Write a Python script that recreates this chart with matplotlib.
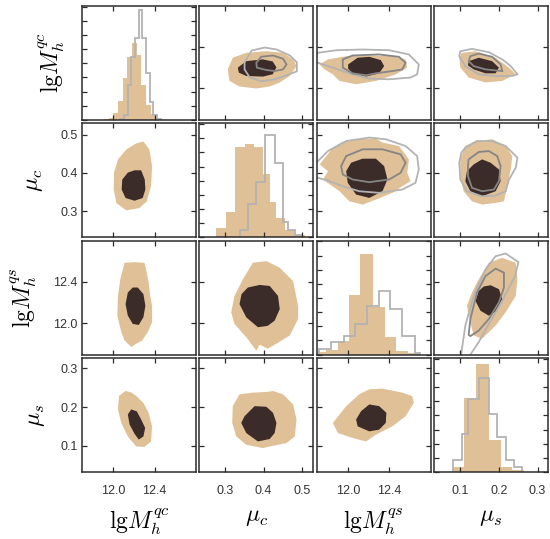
import matplotlib
matplotlib.use('Agg')
import matplotlib.pyplot as plt
from matplotlib.patches import Polygon

plt.rcParams['font.family'] = ['Liberation Sans', 'DejaVu Sans']
plt.rcParams['mathtext.fontset'] = 'cm'

TAN = '#e0c096'
DARK = '#3b2c29'
GRAY_OUT = '#b3b3b3'
GRAY_IN = '#858585'
SPINE = '#2b2b2b'

# parameter labels and axis setup
labels = [r'$\mathrm{lg}M_h^{qc}$', r'$\mu_c$', r'$\mathrm{lg}M_h^{qs}$', r'$\mu_s$']
limits = [(11.695, 12.80), (0.233, 0.529), (11.695, 12.80), (0.032, 0.327)]
ticks = [[12.0, 12.4], [0.3, 0.4, 0.5], [12.0, 12.4], [0.1, 0.2, 0.3]]
tick_text = [['12.0', '12.4'], ['0.3', '0.4', '0.5'], ['12.0', '12.4'], ['0.1', '0.2', '0.3']]

# 1D histograms (tan = filled, gray = step)
qc_edges_tan = [11.91, 11.955, 12.0, 12.045, 12.09, 12.135, 12.18, 12.225, 12.27, 12.315, 12.36, 12.405, 12.45]
qc_counts_tan = [0.1, 0.15, 0.47, 1.33, 2.95, 4.42, 5.47, 4.58, 2.44, 1.05, 0.4, 0.1]
qc_edges_gray = [12.067, 12.102, 12.138, 12.174, 12.209, 12.245, 12.280, 12.316, 12.351, 12.387, 12.422, 12.458]
qc_counts_gray = [0.1, 0.35, 2.45, 4.45, 5.8, 7.8, 5.8, 3.3, 1.3, 0.35, 0.1]

muc_edges_tan = [0.2766, 0.3027, 0.3244, 0.3505, 0.3740, 0.3983, 0.4158, 0.4333, 0.4549, 0.4810, 0.5072]
muc_counts_tan = [0.66, 1.78, 6.4, 6.56, 6.4, 4.47, 2.5, 1.34, 0.52, 0.17]
muc_edges_gray = [0.3374, 0.3591, 0.3810, 0.4027, 0.4288, 0.4505, 0.4636, 0.4810, 0.4985]
muc_counts_gray = [0.52, 2.38, 3.9, 7.26, 5.28, 1.1, 0.52, 0.17]

qs_edges_tan = [11.708, 11.788, 11.900, 12.012, 12.118, 12.243, 12.356, 12.467, 12.582, 12.692]
qs_counts_tan = [0.19, 0.3, 0.95, 4.19, 7.08, 3.38, 1.27, 0.26, 0.15]
qs_edges_gray = [11.717, 11.836, 11.955, 12.070, 12.183, 12.301, 12.404, 12.525, 12.644, 12.692]
qs_counts_gray = [0.37, 0.88, 1.3, 2.2, 3.42, 4.47, 3.2, 1.34, 0.15]

mus_edges_tan = [0.0806, 0.1085, 0.1406, 0.1738, 0.2043, 0.2346, 0.2652]
mus_counts_tan = [0.33, 5.25, 7.64, 2.23, 0.37, 0.15]
mus_edges_gray = [0.0806, 0.1041, 0.1189, 0.1477, 0.1738, 0.1939, 0.2174, 0.2391, 0.2607]
mus_counts_gray = [0.84, 2.65, 5.13, 6.64, 4.13, 2.46, 0.84, 0.37]

# 2D credible regions, lower triangle (x = column param, y = row param)
p21_tan = [(12.291, 0.482), (12.349, 0.461), (12.375, 0.418), (12.365, 0.366), (12.323, 0.326), (12.253, 0.309),
           (12.125, 0.303), (12.029, 0.322), (12.003, 0.357), (12.006, 0.401), (12.044, 0.435), (12.125, 0.461),
           (12.221, 0.477)]
p21_dark = [(12.269, 0.407), (12.304, 0.383), (12.310, 0.357), (12.284, 0.335), (12.205, 0.328), (12.118, 0.335),
            (12.080, 0.357), (12.086, 0.383), (12.140, 0.401), (12.205, 0.407)]

p31_tan = [(12.205, 12.592), (12.301, 12.586), (12.317, 12.522), (12.342, 12.394), (12.356, 12.265), (12.375, 12.169),
           (12.375, 12.009), (12.333, 11.913), (12.279, 11.833), (12.221, 11.801), (12.173, 11.769), (12.108, 11.833),
           (12.077, 11.913), (12.038, 12.073), (12.044, 12.265), (12.067, 12.426), (12.108, 12.586)]
p31_dark = [(12.236, 12.346), (12.291, 12.282), (12.310, 12.169), (12.291, 12.058), (12.246, 11.983), (12.188, 11.993),
            (12.140, 12.073), (12.118, 12.185), (12.140, 12.298), (12.188, 12.346)]

p41_tan = [(12.118, 0.242), (12.054, 0.229), (12.044, 0.194), (12.077, 0.159), (12.140, 0.124), (12.221, 0.098),
           (12.301, 0.097), (12.365, 0.111), (12.375, 0.150), (12.342, 0.185), (12.291, 0.211), (12.221, 0.229),
           (12.173, 0.238)]
p41_dark = [(12.173, 0.194), (12.227, 0.189), (12.269, 0.168), (12.308, 0.146), (12.291, 0.124), (12.246, 0.116),
            (12.205, 0.131), (12.157, 0.155), (12.140, 0.181)]

p32_tan = [(0.3722, 12.586), (0.4072, 12.602), (0.4419, 12.538), (0.4766, 12.409), (0.4897, 12.169), (0.4897, 12.041),
           (0.4680, 11.881), (0.4333, 11.801), (0.4105, 11.753), (0.3897, 11.791), (0.3810, 11.733), (0.3583, 11.849),
           (0.3244, 11.993), (0.3158, 12.106), (0.3244, 12.265), (0.3461, 12.426)]
p32_dark = [(0.3897, 12.371), (0.4158, 12.361), (0.4374, 12.265), (0.4419, 12.137), (0.4288, 12.025), (0.4105, 11.974),
            (0.3852, 11.961), (0.3549, 12.057), (0.3374, 12.185), (0.3427, 12.282), (0.3591, 12.346)]

p42_tan = [(0.3374, 0.2331), (0.3199, 0.2025), (0.3184, 0.1592), (0.3288, 0.1242), (0.3549, 0.1025), (0.3983, 0.0939),
           (0.4158, 0.0981), (0.4594, 0.1069), (0.4810, 0.1242), (0.4855, 0.1678), (0.4766, 0.2069), (0.4505, 0.2331),
           (0.4244, 0.2417), (0.4072, 0.2391), (0.3722, 0.2375)]
p42_dark = [(0.3766, 0.2025), (0.3505, 0.1764), (0.3419, 0.1592), (0.3549, 0.1330), (0.3852, 0.1111), (0.4158, 0.1174),
            (0.4288, 0.1330), (0.4333, 0.1592), (0.4244, 0.1853), (0.4072, 0.2009)]

p43_tan = [(11.852, 0.1592), (11.900, 0.1330), (12.044, 0.1200), (12.173, 0.1111), (12.269, 0.1286), (12.429, 0.1503),
           (12.557, 0.1764), (12.637, 0.2114), (12.621, 0.2286), (12.525, 0.2375), (12.333, 0.2479), (12.205, 0.2461),
           (12.108, 0.2331), (11.981, 0.2025)]
p43_dark = [(12.205, 0.2069), (12.301, 0.2025), (12.371, 0.1853), (12.365, 0.1592), (12.301, 0.1417), (12.205, 0.1372),
            (12.092, 0.1503), (12.077, 0.1678), (12.125, 0.1894)]

# upper triangle: filled regions plus the two gray contours of the second sample
p12_tan = [(0.3199, 12.298), (0.3069, 12.185), (0.3113, 12.073), (0.3374, 12.019), (0.3810, 12.000), (0.4158, 12.019),
           (0.4419, 12.058), (0.4680, 12.121), (0.4855, 12.217), (0.4766, 12.282), (0.4505, 12.346), (0.4072, 12.361),
           (0.3549, 12.346)]
p12_dark = [(0.3330, 12.202), (0.3549, 12.265), (0.3983, 12.282), (0.4236, 12.262), (0.4333, 12.205), (0.4236, 12.138),
            (0.3983, 12.115), (0.3549, 12.121), (0.3356, 12.154)]
p12_outer = [(0.3505, 12.253), (0.3688, 12.368), (0.4027, 12.397), (0.4340, 12.378), (0.4680, 12.320), (0.4863, 12.253),
             (0.4863, 12.166), (0.4601, 12.128), (0.4288, 12.089), (0.3949, 12.070), (0.3636, 12.108), (0.3505, 12.185)]
p12_inner = [(0.3810, 12.250), (0.3941, 12.308), (0.4244, 12.320), (0.4505, 12.288), (0.4594, 12.233), (0.4505, 12.185),
             (0.4288, 12.169), (0.4072, 12.179), (0.3826, 12.202)]

p13_tan = [(11.724, 12.233), (11.804, 12.282), (11.981, 12.313), (12.205, 12.320), (12.429, 12.313), (12.557, 12.282),
           (12.573, 12.202), (12.461, 12.137), (12.269, 12.073), (12.077, 12.041), (11.916, 12.073), (11.852, 12.137),
           (11.772, 12.185)]
p13_dark = [(12.000, 12.233), (12.092, 12.298), (12.205, 12.307), (12.317, 12.275), (12.349, 12.217), (12.301, 12.147),
            (12.173, 12.115), (12.044, 12.147), (12.000, 12.192)]
p13_outer = [(11.666, 12.301), (11.707, 12.346), (11.884, 12.371), (12.140, 12.378), (12.397, 12.371), (12.589, 12.330),
             (12.685, 12.233), (12.669, 12.137), (12.605, 12.106), (12.397, 12.089), (12.205, 12.096), (12.044, 12.137),
             (11.852, 12.202), (11.666, 12.262)]
p13_inner = [(11.948, 12.282), (12.044, 12.320), (12.301, 12.330), (12.493, 12.307), (12.557, 12.250), (12.525, 12.185),
             (12.429, 12.169), (12.269, 12.147), (12.173, 12.128), (12.044, 12.147), (11.948, 12.202)]

p14_tan = [(0.1041, 12.346), (0.1391, 12.361), (0.1913, 12.298), (0.2260, 12.202), (0.2435, 12.137), (0.2085, 12.073),
           (0.1652, 12.058), (0.1216, 12.106), (0.1000, 12.202), (0.0973, 12.298)]
p14_dark = [(0.1216, 12.265), (0.1477, 12.298), (0.1824, 12.265), (0.1999, 12.202), (0.1913, 12.147), (0.1652, 12.147),
            (0.1346, 12.185), (0.1197, 12.224)]
p14_outer = [(0.1000, 12.361), (0.1302, 12.384), (0.1738, 12.352), (0.2085, 12.282), (0.2304, 12.217), (0.2477, 12.137),
             (0.2346, 12.121), (0.1913, 12.121), (0.1477, 12.137), (0.1129, 12.217), (0.0973, 12.313)]
p14_inner = [(0.1260, 12.313), (0.1477, 12.339), (0.1824, 12.307), (0.2043, 12.233), (0.2085, 12.169), (0.1652, 12.185),
             (0.1346, 12.217), (0.1216, 12.265)]

p23_tan = [(11.932, 0.4790), (12.077, 0.4876), (12.269, 0.4894), (12.333, 0.4790), (12.493, 0.4701), (12.589, 0.4354),
           (12.573, 0.4006), (12.605, 0.3787), (12.525, 0.3656), (12.429, 0.3484), (12.269, 0.3309), (12.140, 0.3179),
           (12.012, 0.3265), (11.916, 0.3526), (11.756, 0.3831), (11.804, 0.4048), (11.724, 0.4223), (11.788, 0.4440),
           (11.852, 0.4659)]
p23_dark = [(12.140, 0.4372), (12.269, 0.4372), (12.349, 0.4179), (12.381, 0.3831), (12.333, 0.3526), (12.205, 0.3353),
            (12.077, 0.3440), (11.996, 0.3745), (11.981, 0.4048), (12.029, 0.4267)]
p23_outer = [(11.660, 0.4250), (11.707, 0.4309), (11.804, 0.4570), (11.981, 0.4831), (12.205, 0.4920), (12.365, 0.4876),
             (12.557, 0.4701), (12.669, 0.4440), (12.685, 0.4092), (12.653, 0.3745), (12.525, 0.3570), (12.301, 0.3484),
             (12.108, 0.3526), (11.948, 0.3656), (11.820, 0.3787), (11.707, 0.3876), (11.660, 0.3900)]
p23_inner = [(11.932, 0.4179), (11.981, 0.4440), (12.140, 0.4615), (12.333, 0.4615), (12.509, 0.4484), (12.557, 0.4267),
             (12.509, 0.4006), (12.397, 0.3831), (12.205, 0.3762), (12.044, 0.3831), (11.948, 0.3962)]

p24_tan = [(0.1129, 0.4701), (0.1391, 0.4831), (0.1824, 0.4876), (0.2174, 0.4701), (0.2346, 0.4440), (0.2304, 0.4092),
           (0.2216, 0.3656), (0.2129, 0.3265), (0.1913, 0.3223), (0.1563, 0.3179), (0.1302, 0.3265), (0.1085, 0.3526),
           (0.1000, 0.3918), (0.1000, 0.4354)]
p24_dark = [(0.1563, 0.4354), (0.1782, 0.4267), (0.1999, 0.4092), (0.2043, 0.3787), (0.1913, 0.3526), (0.1563, 0.3396),
            (0.1260, 0.3526), (0.1129, 0.3787), (0.1171, 0.4048), (0.1346, 0.4223)]
p24_outer = [(0.1129, 0.4659), (0.1434, 0.4831), (0.1824, 0.4831), (0.2174, 0.4701), (0.2477, 0.4398), (0.2435, 0.4137),
             (0.2260, 0.3831), (0.2174, 0.3526), (0.1913, 0.3414), (0.1563, 0.3396), (0.1171, 0.3526), (0.1000, 0.3831),
             (0.0973, 0.4267), (0.1026, 0.4528)]
p24_inner = [(0.1216, 0.4354), (0.1477, 0.4545), (0.1738, 0.4570), (0.1954, 0.4440), (0.2043, 0.4179), (0.1999, 0.3787),
             (0.1868, 0.3570), (0.1563, 0.3526), (0.1302, 0.3615), (0.1197, 0.3918), (0.1197, 0.4179)]

p34_tan = [(0.1738, 12.586), (0.2085, 12.634), (0.2435, 12.586), (0.2477, 12.426), (0.2435, 12.265), (0.2174, 12.106),
           (0.1913, 11.977), (0.1563, 11.849), (0.1346, 11.881), (0.1260, 12.009), (0.1171, 12.169), (0.1302, 12.298),
           (0.1477, 12.426)]
p34_dark = [(0.1782, 12.368), (0.1999, 12.330), (0.2085, 12.233), (0.1954, 12.121), (0.1738, 12.073), (0.1521, 12.121),
            (0.1391, 12.217), (0.1477, 12.313), (0.1607, 12.356)]
p34_outer = [(0.1000, 11.600), (0.1025, 11.705), (0.1129, 11.977), (0.1346, 12.265), (0.1652, 12.522), (0.1913, 12.650),
             (0.2174, 12.676), (0.2503, 12.592), (0.2417, 12.457), (0.2085, 12.217), (0.1738, 11.993), (0.1477, 11.817),
             (0.1260, 11.695), (0.1220, 11.600)]
p34_inner = [(0.1216, 11.887), (0.1260, 12.041), (0.1432, 12.298), (0.1652, 12.457), (0.1913, 12.529), (0.2129, 12.490),
             (0.2129, 12.346), (0.1999, 12.202), (0.1738, 12.041), (0.1477, 11.929), (0.1260, 11.875)]

hists = {
    0: (qc_edges_tan, qc_counts_tan, qc_edges_gray, qc_counts_gray),
    1: (muc_edges_tan, muc_counts_tan, muc_edges_gray, muc_counts_gray),
    2: (qs_edges_tan, qs_counts_tan, qs_edges_gray, qs_counts_gray),
    3: (mus_edges_tan, mus_counts_tan, mus_edges_gray, mus_counts_gray),
}
regions = {
    (1, 0): (p21_tan, p21_dark, None, None),
    (2, 0): (p31_tan, p31_dark, None, None),
    (3, 0): (p41_tan, p41_dark, None, None),
    (2, 1): (p32_tan, p32_dark, None, None),
    (3, 1): (p42_tan, p42_dark, None, None),
    (3, 2): (p43_tan, p43_dark, None, None),
    (0, 1): (p12_tan, p12_dark, p12_outer, p12_inner),
    (0, 2): (p13_tan, p13_dark, p13_outer, p13_inner),
    (0, 3): (p14_tan, p14_dark, p14_outer, p14_inner),
    (1, 2): (p23_tan, p23_dark, p23_outer, p23_inner),
    (1, 3): (p24_tan, p24_dark, p24_outer, p24_inner),
    (2, 3): (p34_tan, p34_dark, p34_outer, p34_inner),
}

ylabel_x = [-0.13, -0.32, -0.38, -0.31]

fig, axes = plt.subplots(4, 4, figsize=(5.5, 5.39), dpi=100)
fig.subplots_adjust(left=0.149, right=0.9964, top=0.9889, bottom=0.1243, wspace=0.03, hspace=0.03)

for i in range(4):
    for j in range(4):
        ax = axes[i, j]
        if i == j:
            et, ct, eg, cg = hists[i]
            ax.stairs(ct, et, fill=True, color=TAN, lw=0)
            ax.stairs(cg, eg, color=GRAY_OUT, lw=1.3)
            ax.set_ylim(0, 8.05)
            ax.set_yticks(range(9))
        else:
            tan, dark, outer, inner = regions[(i, j)]
            ax.add_patch(Polygon(tan, closed=True, fc=TAN, ec='none'))
            ax.add_patch(Polygon(dark, closed=True, fc=DARK, ec='none'))
            if outer is not None:
                ax.add_patch(Polygon(outer, closed=True, fill=False, ec=GRAY_OUT, lw=1.3))
                ax.add_patch(Polygon(inner, closed=True, fill=False, ec=GRAY_IN, lw=1.3))
            ax.set_ylim(*limits[i])
            ax.set_yticks(ticks[i])
        ax.set_xlim(*limits[j])
        ax.set_xticks(ticks[j])

        for s in ax.spines.values():
            s.set_color(SPINE)
            s.set_linewidth(1.1)
        ax.tick_params(direction='in', top=True, right=True, length=3.5, width=0.9,
                       color=SPINE, labelsize=9, labelcolor='#333333')
        ax.tick_params(axis='x', pad=9)
        ax.tick_params(axis='y', pad=3)

        if i == 3:
            ax.set_xticklabels(tick_text[j])
            ax.set_xlabel(labels[j], fontsize=17)
            ax.xaxis.set_label_coords(0.5, -0.30)
        else:
            ax.set_xticklabels([])
        if j == 0 and i > 0:
            ax.set_yticklabels(tick_text[i])
        else:
            ax.set_yticklabels([])
        if j == 0:
            ax.set_ylabel(labels[i], fontsize=17)
            ax.yaxis.set_label_coords(ylabel_x[i], 0.5)

fig.savefig('out.png', dpi=100)
